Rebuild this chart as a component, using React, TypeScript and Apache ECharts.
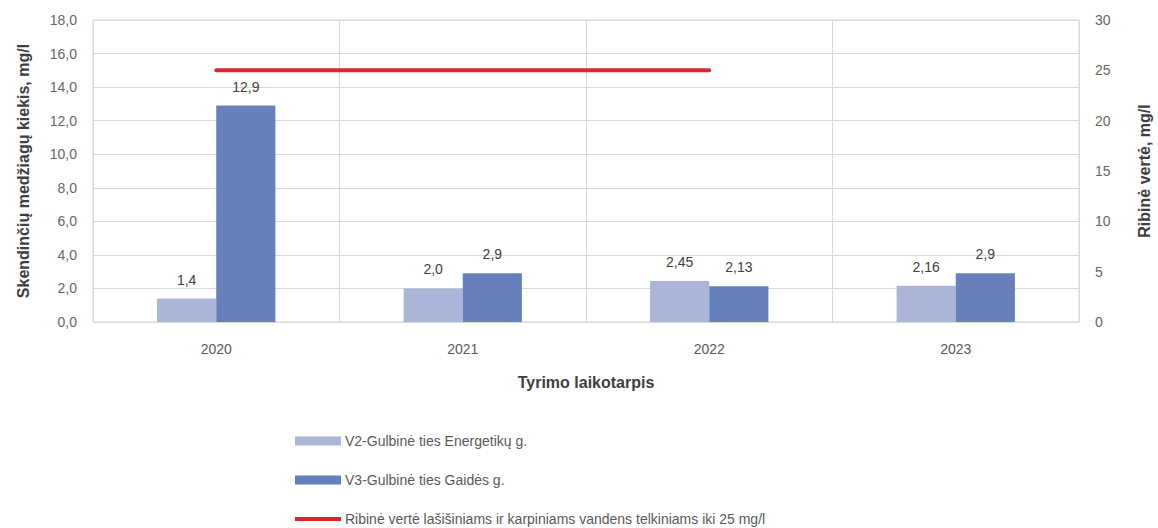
import React, { useEffect, useRef } from "react";
import * as echarts from "echarts";

const categories = ["2020", "2021", "2022", "2023"];
const v2Values = [1.4, 2.0, 2.45, 2.16];
const v2Labels = ["1,4", "2,0", "2,45", "2,16"];
const v3Values = [12.9, 2.9, 2.13, 2.9];
const v3Labels = ["12,9", "2,9", "2,13", "2,9"];
const limitValues = [25, 25, 25, null];

const seriesNames = [
  "V2-Gulbinė ties Energetikų g.",
  "V3-Gulbinė ties Gaidės g.",
  "Ribinė vertė lašišiniams ir karpiniams vandens telkiniams iki 25 mg/l",
];

export default function App() {
  const ref = useRef<HTMLDivElement>(null);
  useEffect(() => {
    const chart = echarts.init(ref.current!, null, { renderer: "svg" });
    const font = "Liberation Sans, Arial, sans-serif";
    chart.setOption({
      animation: false,
      textStyle: { fontFamily: font },
      grid: {
        left: 93,
        right: 79,
        top: 20,
        bottom: 206,
        outerBoundsMode: "none",
        containLabel: false,
        show: true,
        borderColor: "#d9d9d9",
        borderWidth: 1,
      },
      legend: {
        orient: "vertical",
        left: 295,
        top: 434,
        height: 94,
        padding: 0,
        itemGap: 25,
        itemWidth: 46,
        itemHeight: 9,
        textStyle: { fontSize: 14, color: "#595959", fontFamily: font, padding: [0, 0, 0, -1] },
        data: [
          { name: seriesNames[0], icon: "rect" },
          { name: seriesNames[1], icon: "rect" },
          { name: seriesNames[2], icon: "path://M0,0 M0,2.5 L46,2.5 L46,6.5 L0,6.5 Z M46,9" },
        ],
      },
      xAxis: {
        type: "category",
        data: categories,
        name: "Tyrimo laikotarpis",
        nameLocation: "middle",
        nameGap: 52,
        nameTextStyle: { fontSize: 16, fontWeight: "bold", color: "#404040" },
        axisLine: { lineStyle: { color: "#d9d9d9" } },
        axisTick: { show: false },
        axisLabel: { fontSize: 14, color: "#595959", margin: 20 },
        splitLine: { show: true, lineStyle: { color: "#d9d9d9" } },
      },
      yAxis: [
        {
          type: "value",
          min: 0,
          max: 18,
          interval: 2,
          name: "Skendinčių medžiagų kiekis, mg/l",
          nameLocation: "middle",
          nameGap: 62,
          nameTextStyle: { fontSize: 16, fontWeight: "bold", color: "#404040" },
          axisLine: { show: false },
          axisTick: { show: false },
          axisLabel: {
            fontSize: 14,
            color: "#666666",
            margin: 16,
            formatter: (v: number) => v.toFixed(1).replace(".", ","),
          },
          splitLine: { lineStyle: { color: "#d9d9d9" } },
        },
        {
          type: "value",
          min: 0,
          max: 30,
          interval: 5,
          name: "Ribinė vertė, mg/l",
          nameLocation: "middle",
          nameGap: 57,
          nameRotate: 90,
          nameTextStyle: { fontSize: 16, fontWeight: "bold", color: "#404040" },
          axisLine: { show: false },
          axisTick: { show: false },
          axisLabel: { fontSize: 14, color: "#666666", margin: 16 },
          splitLine: { show: false },
        },
      ],
      series: [
        {
          name: seriesNames[0],
          type: "bar",
          data: v2Values,
          barGap: "0%",
          barCategoryGap: "52%",
          itemStyle: { color: "#aab5d7" },
          label: {
            show: true,
            position: "top",
            distance: 12,
            fontSize: 14,
            color: "#404040",
            formatter: (p: any) => v2Labels[p.dataIndex],
          },
        },
        {
          name: seriesNames[1],
          type: "bar",
          data: v3Values,
          barGap: "0%",
          barCategoryGap: "52%",
          itemStyle: { color: "#6680bb" },
          label: {
            show: true,
            position: "top",
            distance: 12,
            fontSize: 14,
            color: "#404040",
            formatter: (p: any) => v3Labels[p.dataIndex],
          },
        },
        {
          name: seriesNames[2],
          type: "line",
          yAxisIndex: 1,
          data: limitValues,
          symbol: "none",
          itemStyle: { color: "#d9282b" },
          lineStyle: { color: "#d9282b", width: 4, cap: "round" },
        },
      ],
    });
    return () => chart.dispose();
  }, []);
  return <div ref={ref} style={{ width: 1158, height: 528, position: "absolute", left: 0, top: 0 }} />;
}
